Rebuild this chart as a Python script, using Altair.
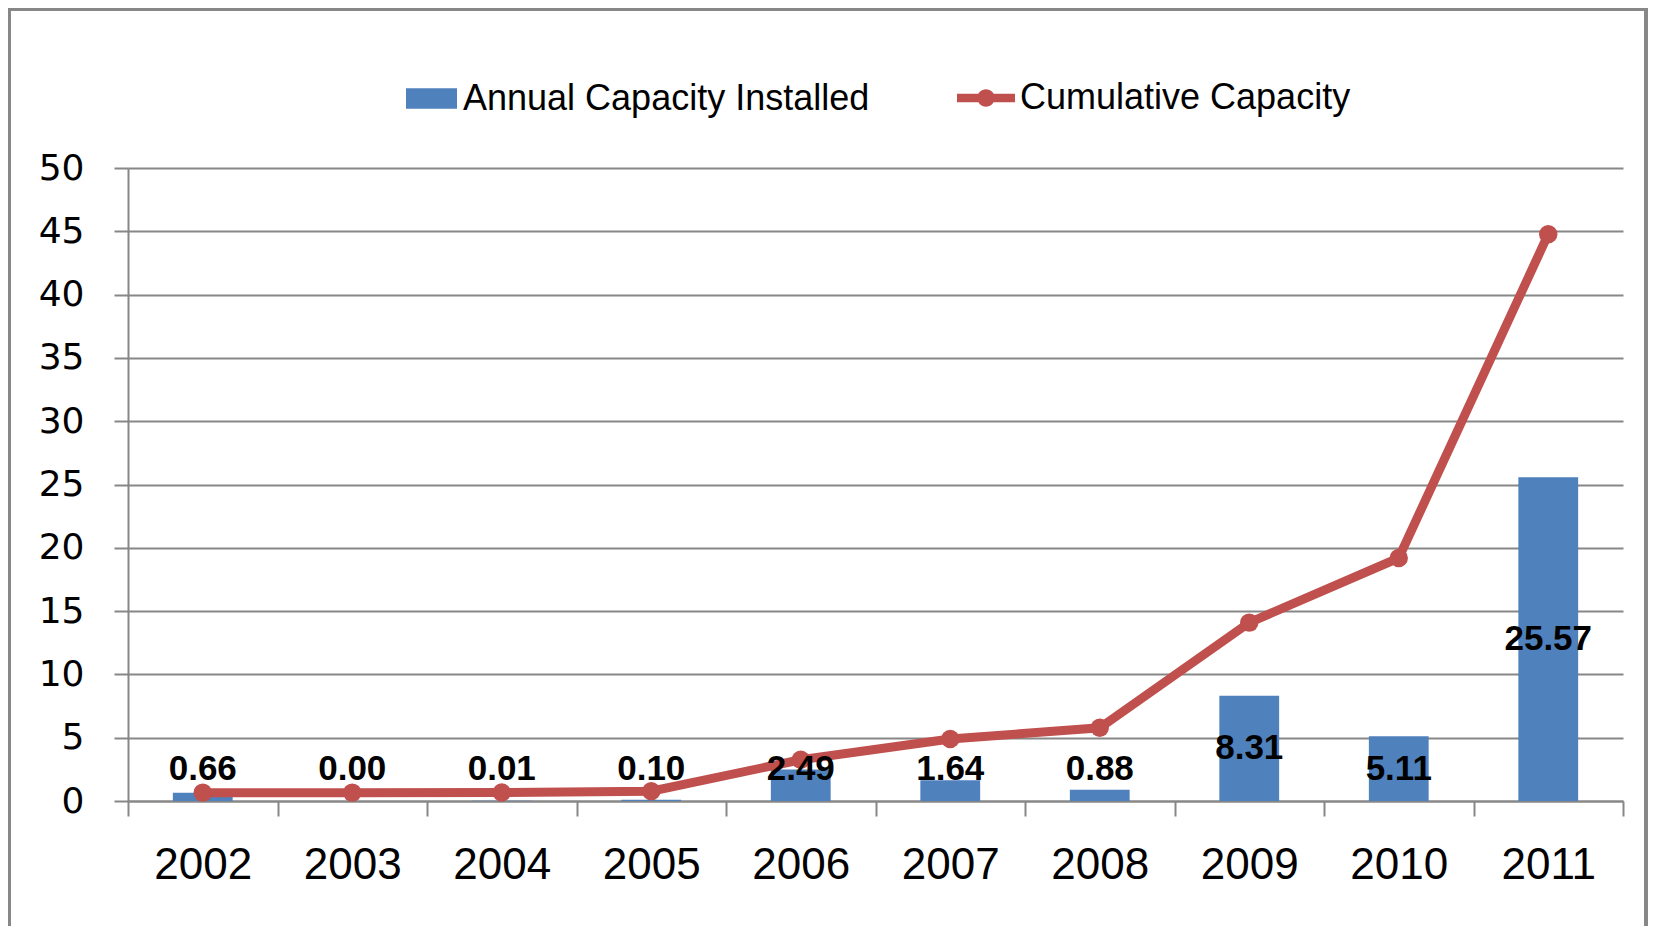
import altair as alt
import pandas as pd

years = ["2002", "2003", "2004", "2005", "2006", "2007", "2008", "2009", "2010", "2011"]
annual = [0.66, 0.00, 0.01, 0.10, 2.49, 1.64, 0.88, 8.31, 5.11, 25.57]
cumulative = [0.66, 0.66, 0.67, 0.77, 3.26, 4.90, 5.78, 14.09, 19.20, 44.77]
y_ticks = [0, 5, 10, 15, 20, 25, 30, 35, 40, 45, 50]

df = pd.DataFrame({
    "year": years,
    "annual": annual,
    "cumulative": cumulative,
    "s1": ["Annual Capacity Installed"] * len(years),
    "s2": ["Cumulative Capacity"] * len(years),
})

BLUE = "#4F81BD"
RED = "#C0504D"
GRID = "#878787"
NARROW = "Liberation Sans Narrow, Liberation Sans, Arial"

x = alt.X("year:N", sort=years, title=None,
          scale=alt.Scale(paddingInner=0, paddingOuter=0),
          axis=alt.Axis(labelAngle=0, labelFont=NARROW, labelFontSize=44,
                        labelColor="#000000", labelPadding=27, tickBand="extent",
                        tickSize=15, tickColor=GRID, tickWidth=2,
                        domainColor=GRID, domainWidth=2, grid=False))
y_scale = alt.Scale(domain=[0, 50], nice=False)

bar_shape = "M-1,-0.4L1,-0.4L1,0.4L-1,0.4Z"
line_shape = ("M-1,-0.15L1,-0.15L1,0.15L-1,0.15Z "
              "M-0.3,0A0.3,0.3 0 1,1 0.3,0A0.3,0.3 0 1,1 -0.3,0Z")

bars = alt.Chart(df).mark_bar(width=alt.RelativeBandSize(0.4)).encode(
    x=x,
    y=alt.Y("annual:Q", scale=y_scale, title=None,
            axis=alt.Axis(values=y_ticks, labelFont="DejaVu Sans", labelFontSize=36,
                          labelColor="#000000", labelPadding=30, tickSize=14,
                          tickColor=GRID, tickWidth=2, domainColor=GRID, domainWidth=2,
                          grid=True, gridColor=GRID, gridWidth=2)),
    fill=alt.Fill("s1:N", scale=alt.Scale(range=[BLUE]), title=None,
                  legend=alt.Legend(orient="none", legendX=278, legendY=-95,
                                    symbolType=bar_shape, symbolSize=2601,
                                    symbolStrokeWidth=0, labelFont=NARROW,
                                    labelFontSize=36, labelColor="#000000",
                                    labelOffset=6, labelLimit=0, padding=0)),
)

line = alt.Chart(df).mark_line(color=RED, strokeWidth=9).encode(
    x=alt.X("year:N", sort=years),
    y=alt.Y("cumulative:Q", scale=y_scale),
)

points = alt.Chart(df).mark_point(filled=True, size=340, opacity=1).encode(
    x=alt.X("year:N", sort=years),
    y=alt.Y("cumulative:Q", scale=y_scale),
    fill=alt.Fill("s2:N", scale=alt.Scale(range=[RED]), title=None,
                  legend=alt.Legend(orient="none", legendX=829, legendY=-99,
                                    symbolType=line_shape, symbolSize=3364,
                                    symbolStrokeWidth=0, labelFont=NARROW,
                                    labelFontSize=36, labelColor="#000000",
                                    labelOffset=5, labelLimit=0, padding=0)),
)

labels = alt.Chart(df).transform_calculate(
    ly="max(datum.annual / 2, 2.55)"
).mark_text(font="Liberation Sans", fontWeight="bold", fontSize=35,
            color="#000000", baseline="middle").encode(
    x=alt.X("year:N", sort=years),
    y=alt.Y("ly:Q", scale=y_scale),
    text=alt.Text("annual:Q", format=".2f"),
)

frame = alt.Chart(df).mark_rect(fill=None, stroke=GRID, strokeWidth=3, clip=False).encode(
    x=alt.value(-119), x2=alt.value(1518), y=alt.value(-159), y2=alt.value(900)
)

chart = alt.layer(frame, bars, line, points, labels).resolve_scale(
    fill="independent"
).properties(
    width=1495, height=633,
    padding={"left": 120, "top": 160, "right": 25, "bottom": 125},
    autosize=alt.AutoSizeParams(type="none"),
    background="#FFFFFF",
).configure_view(stroke=None)

chart.save("out.html", embed_options={"renderer": "svg", "actions": False})
